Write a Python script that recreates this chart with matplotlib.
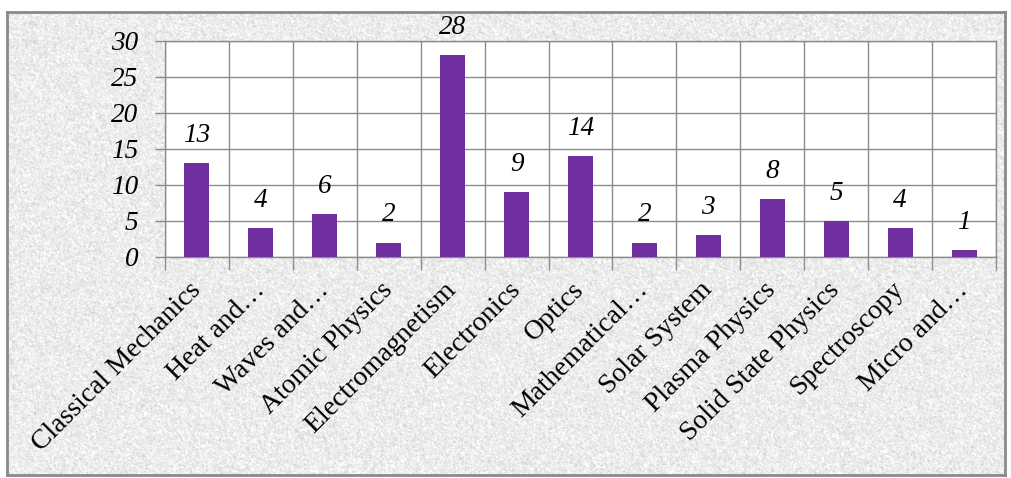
import numpy as np
import matplotlib
matplotlib.use("Agg")
import matplotlib.pyplot as plt

topics = ["Classical Mechanics", "Heat and\u2026", "Waves and\u2026", "Atomic Physics",
          "Electromagnetism", "Electronics", "Optics", "Mathematical\u2026",
          "Solar System", "Plasma Physics", "Solid State Physics", "Spectroscopy",
          "Micro and\u2026"]
counts = [13, 4, 6, 2, 28, 9, 14, 2, 3, 8, 5, 4, 1]

bar_color = "#7030A0"
grid_color = "#8c8c8c"
serif = "Liberation Serif"

fig = plt.figure(figsize=(10.12, 4.78), dpi=100)

# granite-like backdrop inside the frame
rng = np.random.default_rng(7)
h, w = 478, 1012
noise = rng.normal(0, 1, (h, w))
smooth = noise.copy()
for dy, dx in [(0, 1), (1, 0), (1, 1), (0, -1), (-1, 0)]:
    smooth += np.roll(np.roll(noise, dy, 0), dx, 1)
smooth /= 6
tex = 0.925 + 0.045 * smooth + 0.02 * noise
tex = np.clip(tex, 0.75, 1.0)
bg = fig.add_axes([7 / 1012, 3 / 478, 998 / 1012, 463 / 478], zorder=0)
bg.imshow(tex, cmap="gray", vmin=0, vmax=1, aspect="auto", interpolation="nearest")
bg.set_xticks([])
bg.set_yticks([])
for s in bg.spines.values():
    s.set_color("#8a8a8a")
    s.set_linewidth(2)

ax = fig.add_axes([165 / 1012, 221 / 478, 831 / 1012, 216 / 478], zorder=1)
ax.set_facecolor("white")
x = np.arange(len(topics))
bars = ax.bar(x, counts, width=0.39, color=bar_color, zorder=3)

ax.set_xlim(-0.5, len(topics) - 0.5)
ax.set_ylim(0, 30)
ax.set_yticks(range(0, 31, 5))
ax.set_yticklabels([str(v) for v in range(0, 31, 5)], fontfamily=serif,
                   fontstyle="italic", fontsize=19.5)
ax.tick_params(axis="y", length=7, width=1, color=grid_color, pad=12)

ax.set_xticks(x)
ax.set_xticklabels(topics, rotation=45, ha="right", va="center", rotation_mode="anchor",
                   fontfamily=serif, fontsize=20)
ax.tick_params(axis="x", which="major", length=0, pad=21)
ax.set_xticks(np.arange(-0.5, len(topics), 1), minor=True)
ax.tick_params(axis="x", which="minor", length=9, width=1, color=grid_color)

ax.grid(True, axis="y", which="major", color=grid_color, linewidth=1, zorder=0)
ax.grid(True, axis="x", which="minor", color=grid_color, linewidth=1, zorder=0)
ax.grid(False, axis="x", which="major")
for s in ax.spines.values():
    s.set_color(grid_color)
    s.set_linewidth(1)

for rect, v in zip(bars, counts):
    ax.annotate(str(v), (rect.get_x() + rect.get_width() / 2, v),
                xytext=(0, 20), textcoords="offset points", ha="center", va="center",
                fontfamily=serif, fontstyle="italic", fontsize=19.5, annotation_clip=False)

fig.savefig("out.png", dpi=100, facecolor="white")
